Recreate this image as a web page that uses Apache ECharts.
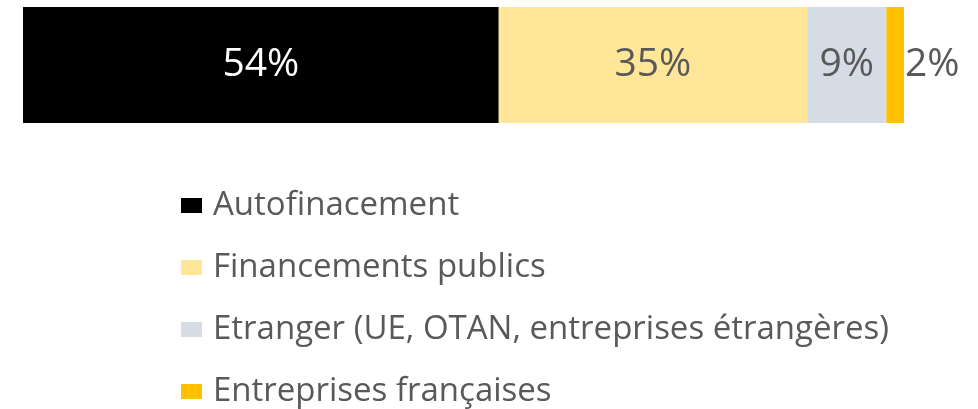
<!DOCTYPE html>
<html>
<head>
<meta charset="utf-8">
<script src="https://cdn.jsdelivr.net/npm/echarts@6/dist/echarts.min.js"></script>
<style>
  html, body { margin: 0; padding: 0; background: #fff; }
  #main { width: 978px; height: 409px; }
</style>
</head>
<body>
<div id="main"></div>
<script type="text/javascript">
    // sources de financement (en %)
    var names = ['Autofinacement', 'Financements publics', 'Etranger (UE, OTAN, entreprises étrangères)', 'Entreprises françaises'];
    var values = [54, 35, 9, 2];
    var colors = ['#000000', '#FFE699', '#D6DCE5', '#FFC000'];
    var labelColors = ['#ffffff', '#595959', '#595959', '#595959'];
    var labelPos = ['inside', 'inside', 'inside', 'right'];

    var font = '"Open Sans", "Noto Sans", sans-serif';

    var myChart = echarts.init(document.getElementById('main'));

    var series = [];
    for (var i = 0; i < names.length; i++) {
        series.push({
            name: names[i],
            type: 'bar',
            stack: 'total',
            barWidth: 116,
            itemStyle: { color: colors[i] },
            label: {
                show: true,
                position: labelPos[i],
                distance: 1,
                formatter: '{c}%',
                color: labelColors[i],
                fontFamily: font,
                fontSize: 39
            },
            data: [values[i]]
        });
    }

    var option = {
        animation: false,
        grid: { left: 23, right: 74, top: 7, height: 116 },
        xAxis: { type: 'value', min: 0, max: 100, show: false },
        yAxis: { type: 'category', data: [''], show: false },
        legend: {
            orient: 'vertical',
            left: 181,
            top: 189,
            padding: 0,
            itemWidth: 21,
            itemHeight: 15,
            itemGap: 29,
            icon: 'rect',
            data: names,
            textStyle: {
                color: '#595959',
                fontFamily: font,
                fontSize: 33,
                padding: [0, 0, 0, 6]
            }
        },
        series: series
    };

    myChart.setOption(option);
</script>
</body>
</html>
